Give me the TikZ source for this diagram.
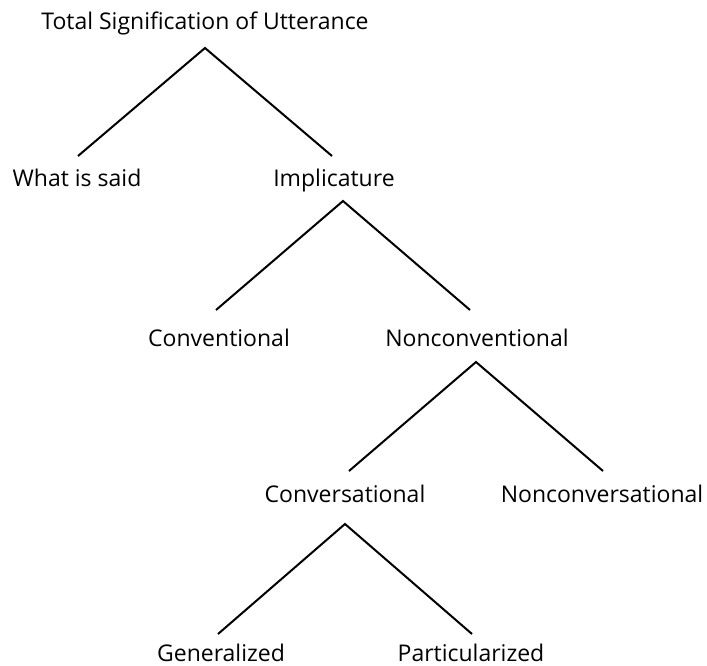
\documentclass[tikz,border=0pt]{standalone}
\usepackage{fontspec}
\setmainfont{Open Sans}
\begin{document}
\begin{tikzpicture}[x=1pt,y=-1pt,
  lbl/.style={anchor=base,inner sep=0pt,font=\fontsize{23}{26}\selectfont},
  branch/.style={line width=2pt,line join=miter}]
\useasboundingbox (0,0) rectangle (707,666);
% labels
\node[lbl] (tot)   at (205,29.5) {Total Signification of Utterance};
\node[lbl] (said)  at (77,186)   {What is said};
\node[lbl] (impl)  at (334,186)  {Implicature};
\node[lbl] (conv)  at (219,346)  {Conventional};
\node[lbl] (nconv) at (477,346)  {Nonconventional};
\node[lbl] (cvs)   at (345,502)  {Conversational};
\node[lbl] (ncvs)  at (602,502)  {Nonconversational};
\node[lbl] (gen)   at (221,661)  {Generalized};
\node[lbl] (part)  at (471,661)  {Particularized};
% branch points
\coordinate (a1) at (205,48);  \coordinate (l1) at (78,156);  \coordinate (r1) at (332,156);
\coordinate (a2) at (343,201); \coordinate (l2) at (216,310); \coordinate (r2) at (470,310);
\coordinate (a3) at (476,362); \coordinate (l3) at (349,471); \coordinate (r3) at (603,471);
\coordinate (a4) at (345,524); \coordinate (l4) at (218,634); \coordinate (r4) at (472,634);
\draw[branch] (l1) -- (a1) -- (r1);
\draw[branch] (l2) -- (a2) -- (r2);
\draw[branch] (l3) -- (a3) -- (r3);
\draw[branch] (l4) -- (a4) -- (r4);
\end{tikzpicture}
\end{document}
